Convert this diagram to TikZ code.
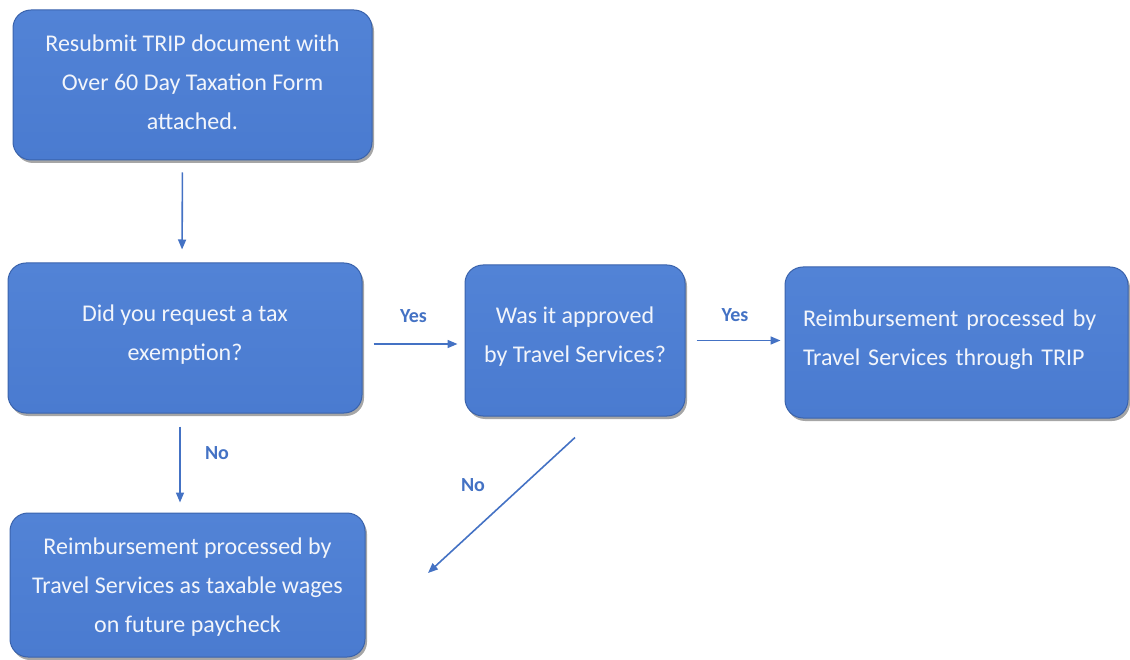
\documentclass[tikz,border=0pt]{standalone}
\usepackage{fontspec}
\setmainfont{Carlito}
\usetikzlibrary{arrows.meta,shadows}

\definecolor{boxblue}{HTML}{4A7BD0}
\definecolor{boxtop}{HTML}{5283D6}
\definecolor{boxedge}{HTML}{3A63AC}
\definecolor{flowblue}{HTML}{4472C4}
\definecolor{boxtext}{HTML}{F2F5FB}

\tikzset{
  procbox/.style={rectangle, rounded corners=18pt, top color=boxtop, bottom color=boxblue,
    draw=boxedge, line width=1pt, text=boxtext, font=\fontsize{24}{39}\selectfont,
    align=center, inner sep=0pt, text depth=11pt,
    drop shadow={shadow xshift=2pt, shadow yshift=-3pt, opacity=0.35, fill=black}},
  flow/.style={draw=flowblue, line width=1.6pt, -{Triangle[length=10pt,width=8pt]}},
  lbl/.style={text=flowblue, font=\fontsize{20}{24}\selectfont\bfseries}
}

\begin{document}
\begin{tikzpicture}[x=1pt, y=-1pt]
	\useasboundingbox (0,0) rectangle (1130,660);
	% boxes
	\node[procbox, minimum width=359pt, minimum height=150pt, text depth=6pt] (resubmit) at (192.5,85)
		{Resubmit TRIP document with\\Over 60 Day Taxation Form\\attached.};
	\node[procbox, minimum width=354pt, minimum height=150pt] (askexempt) at (185,338)
		{Did you request a tax\\exemption?};
	\node[procbox, minimum width=220pt, minimum height=151pt] (approved) at (575,340.5)
		{Was it approved\\by Travel Services?};
	\node[procbox, minimum width=343pt, minimum height=151pt, align=left, text width=307pt, text depth=49pt] (viatrip) at (956.5,342.5)
		{Reimbursement processed by\\Travel Services through TRIP};
	\node[procbox, minimum width=355pt, minimum height=144pt, text depth=-2pt] (taxable) at (187.5,585)
		{Reimbursement processed by\\Travel Services as taxable wages\\on future paycheck};
	\coordinate (nofree) at (428,573);

	% connectors
	\draw[flow, shorten <=12pt, shorten >=13pt] ([xshift=-10pt]resubmit.south) -- ([xshift=-3pt]askexempt.north);
	\draw[flow, shorten <=11pt, shorten >=7pt] ([yshift=-6pt]askexempt.east) -- ([yshift=-3.5pt]approved.west)
		node[lbl, midway, yshift=28pt] {Yes};
	\draw[flow, shorten <=11pt, shorten >=4pt] (approved.east) -- (approved.east -| viatrip.west)
		node[lbl, midway, yshift=25pt] {Yes};
	\draw[flow, shorten <=13pt, shorten >=10pt] ([xshift=-5pt]askexempt.south) -- ([xshift=-7.5pt]taxable.north)
		node[lbl, midway, xshift=37pt, yshift=9.5pt] {No};
	\draw[flow] ([yshift=-21pt]approved.south) -- (nofree)
		node[lbl, midway, xshift=-28.5pt, yshift=20pt] {No};
\end{tikzpicture}
\end{document}
